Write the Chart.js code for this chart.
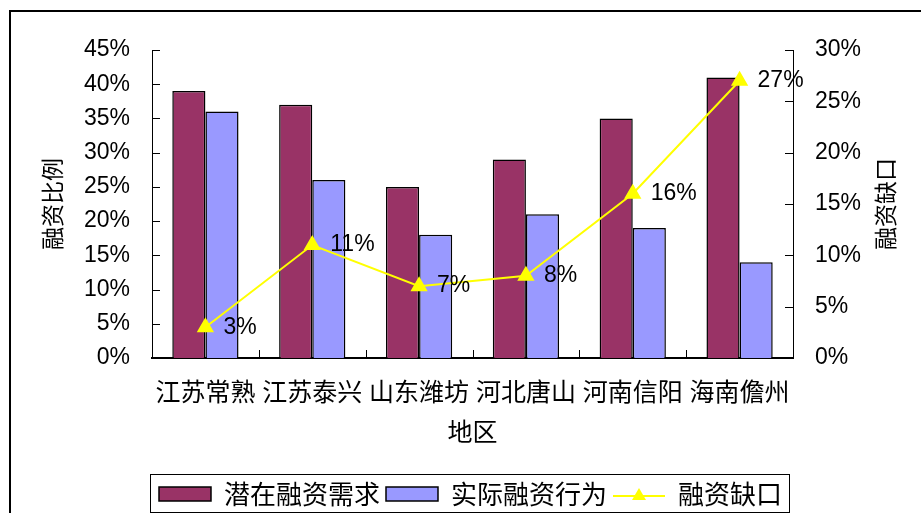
<!DOCTYPE html>
<html>
<head>
<meta charset="utf-8">
<script src="https://cdn.jsdelivr.net/npm/chart.js@4"></script>
<style>
  html, body { margin: 0; padding: 0; background: #fff; overflow: hidden; }
  #frame { position: absolute; left: 9px; top: 10px; width: 1000px; height: 1000px;
           border-left: 2px solid #000; border-top: 2px solid #000; }
  #wrap { position: absolute; left: 0; top: 0; width: 921px; height: 517px; }
</style>
</head>
<body>
<div id="frame"></div>
<div id="wrap"><canvas id="chart" width="921" height="517"></canvas></div>
<script>
// regions
const regions = ["江苏常熟", "江苏泰兴", "山东潍坊", "河北唐山", "河南信阳", "海南儋州"];
// left axis, percent
const potentialDemand = [39, 37, 25, 29, 35, 41];
const actualFinancing = [36, 26, 18, 21, 19, 14];
// right axis, percent
const financingGap = [3, 11, 7, 8, 16, 27];

const cjk = "'Noto Sans CJK SC', sans-serif";
const latin = "'Liberation Sans', Arial, sans-serif";

// legend icon for the line series: yellow line with a triangle
const lineIcon = document.createElement("canvas");
lineIcon.width = 52;
lineIcon.height = 18;
(() => {
    const c = lineIcon.getContext("2d");
    c.strokeStyle = "#FFFF00";
    c.lineWidth = 2;
    c.beginPath();
    c.moveTo(0, 11);
    c.lineTo(52, 11);
    c.stroke();
    c.fillStyle = "#FFFF00";
    c.beginPath();
    c.moveTo(26, 3);
    c.lineTo(33, 15);
    c.lineTo(19, 15);
    c.closePath();
    c.fill();
})();

// inward tick marks, legend frame, right axis title, value labels
const decorations = {
    id: "decorations",
    afterDraw(chart) {
        const ctx = chart.ctx;
        const { y, y1, x } = chart.scales;
        const area = chart.chartArea;
        ctx.save();
        ctx.strokeStyle = "#000";
        ctx.lineWidth = 1;
        ctx.beginPath();
        y.ticks.forEach(t => {
            const py = Math.round(y.getPixelForValue(t.value)) + 0.5;
            ctx.moveTo(area.left, py);
            ctx.lineTo(area.left + 8, py);
        });
        y1.ticks.forEach(t => {
            const py = Math.round(y1.getPixelForValue(t.value)) + 0.5;
            ctx.moveTo(area.right - 8, py);
            ctx.lineTo(area.right, py);
        });
        for (let i = 1; i < regions.length; i++) {
            const px = Math.round((x.getPixelForValue(i - 1) + x.getPixelForValue(i)) / 2) + 0.5;
            ctx.moveTo(px, area.bottom - 8);
            ctx.lineTo(px, area.bottom);
        }
        ctx.stroke();

        // right axis title, reads bottom to top
        ctx.fillStyle = "#000";
        ctx.font = "23px " + cjk;
        ctx.textAlign = "center";
        ctx.textBaseline = "middle";
        ctx.translate(885, (area.top + area.bottom) / 2);
        ctx.rotate(-Math.PI / 2);
        ctx.fillText(chart.options.scales.y1.title.text, 0, 0);
        ctx.restore();

        // value labels on the line
        ctx.save();
        ctx.fillStyle = "#000";
        ctx.font = "23px " + latin;
        ctx.textAlign = "left";
        ctx.textBaseline = "middle";
        chart.getDatasetMeta(2).data.forEach((pt, i) => {
            ctx.fillText(financingGap[i] + "%", pt.x + 18, pt.y);
        });
        ctx.restore();

        // legend frame
        const boxes = chart.legend.legendHitBoxes;
        const l = Math.min(...boxes.map(b => b.left)) - 9;
        const r = Math.max(...boxes.map(b => b.left + b.width)) + 7;
        const t = boxes[0].top - 7;
        ctx.save();
        ctx.strokeStyle = "#000";
        ctx.lineWidth = 1;
        ctx.strokeRect(Math.round(l) + 0.5, Math.round(t) + 0.5, Math.round(r - l), boxes[0].height + 12);
        ctx.restore();
    }
};

new Chart(document.getElementById("chart"), {
    type: "bar",
    data: {
        labels: regions,
        datasets: [
            {
                label: "潜在融资需求",
                data: potentialDemand,
                backgroundColor: "#993366",
                borderColor: "#000",
                borderWidth: 1.5,
                yAxisID: "y",
                order: 1
            },
            {
                label: "实际融资行为",
                data: actualFinancing,
                backgroundColor: "#9999FF",
                borderColor: "#000",
                borderWidth: 1.5,
                yAxisID: "y",
                order: 1
            },
            {
                type: "line",
                label: "融资缺口",
                data: financingGap,
                borderColor: "#FFFF00",
                backgroundColor: "#FFFF00",
                borderWidth: 2,
                pointStyle: "triangle",
                pointRadius: 8,
                pointBackgroundColor: "#FFFF00",
                pointBorderColor: "#FFFF00",
                tension: 0,
                yAxisID: "y1",
                order: 0
            }
        ]
    },
    options: {
        responsive: false,
        animation: false,
        layout: { padding: { left: 30, right: 10, top: 50, bottom: 0 } },
        datasets: {
            bar: { categoryPercentage: 0.62, barPercentage: 1 }
        },
        plugins: {
            tooltip: { enabled: false },
            legend: {
                position: "bottom",
                labels: {
                    usePointStyle: true,
                    pointStyleWidth: 52,
                    boxHeight: 14,
                    padding: 6,
                    color: "#000",
                    font: { family: cjk, size: 26 },
                    generateLabels: chart => chart.data.datasets.map((ds, i) => ({
                        text: ds.label,
                        fillStyle: ds.backgroundColor,
                        strokeStyle: "#000",
                        lineWidth: 1.5,
                        pointStyle: i === 2 ? lineIcon : "rect",
                        hidden: false,
                        datasetIndex: i
                    }))
                }
            }
        },
        scales: {
            x: {
                grid: { display: false, drawTicks: false },
                border: { display: true, color: "#000", width: 2 },
                ticks: {
                    color: "#000",
                    font: { family: cjk, size: 25 },
                    autoSkip: false,
                    maxRotation: 0,
                    minRotation: 0,
                    padding: 18
                },
                title: {
                    display: true,
                    text: "地区",
                    color: "#000",
                    font: { family: cjk, size: 25 },
                    padding: { top: 0, bottom: 29 }
                },
                afterFit: s => { s.height = 117; }
            },
            y: {
                position: "left",
                min: 0,
                max: 45,
                grid: { display: false, drawTicks: false },
                border: { display: true, color: "#000", width: 1 },
                ticks: {
                    stepSize: 5,
                    color: "#000",
                    padding: 22,
                    font: { family: latin, size: 23 },
                    callback: v => v + "%"
                },
                title: {
                    display: true,
                    text: "融资比例",
                    color: "#000",
                    font: { family: cjk, size: 23 },
                    padding: { top: 8, bottom: 0 }
                },
                afterFit: s => { s.width = 122; }
            },
            y1: {
                position: "right",
                min: 0,
                max: 30,
                grid: { display: false, drawTicks: false },
                border: { display: true, color: "#000", width: 1 },
                ticks: {
                    stepSize: 5,
                    color: "#000",
                    padding: 22,
                    font: { family: latin, size: 23 },
                    callback: v => v + "%"
                },
                title: { display: false, text: "融资缺口" },
                afterFit: s => { s.width = 118; }
            }
        }
    },
    plugins: [decorations]
});
</script>
</body>
</html>
